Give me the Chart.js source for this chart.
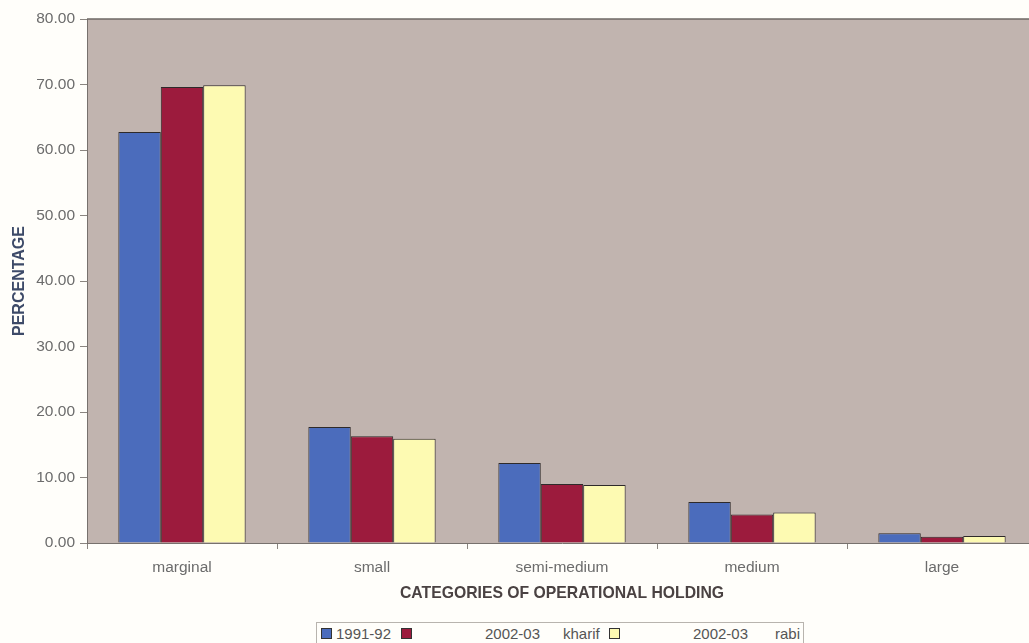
<!DOCTYPE html>
<html>
<head>
<meta charset="utf-8">
<script src="https://cdn.jsdelivr.net/npm/chart.js@4/dist/chart.umd.min.js"></script>
<style>
  html, body { margin: 0; padding: 0; background: #fffefa; overflow: hidden; }
  #wrap { position: relative; width: 1029px; height: 643px; overflow: hidden; }
  #box { position: absolute; left: 0; top: 0; width: 1040px; height: 643px; }
  #legend { position: absolute; left: 316px; top: 622px; width: 488px; height: 30px;
            border: 1px solid #b8b4ae; box-sizing: border-box; background: #fffefa;
            font-family: "Liberation Sans", Arial, sans-serif; font-size: 15px; color: #555; }
  #legend span { position: absolute; top: 2px; white-space: pre; }
  #legend i { position: absolute; top: 5px; width: 9px; height: 9px; border: 1px solid #333; }
</style>
</head>
<body>
<div id="wrap">
  <div id="box"><canvas id="c" width="1040" height="643"></canvas></div>
  <div id="legend"></div>
</div>
<script>
// Share of operational holdings by size category (%)
const categories = ["marginal", "small", "semi-medium", "medium", "large"];
const seriesYears = ["1991-92", "2002-03", "2002-03"];
const seriesSeasons = ["", "kharif", "rabi"];
const values1991 = [62.75, 17.7, 12.2, 6.25, 1.5];
const valuesKharif = [69.6, 16.3, 9.0, 4.35, 0.95];
const valuesRabi = [69.9, 15.9, 8.85, 4.65, 1.05];
const yTicks = [0, 10, 20, 30, 40, 50, 60, 70, 80];

const colors = ["#4b6cbc", "#9c1b3d", "#fdfab2"];

// Plot background and top frame line
const plotFrame = {
  id: "plotFrame",
  beforeDraw(chart) {
    const { ctx, chartArea: a } = chart;
    ctx.save();
    ctx.fillStyle = "#c1b4af";
    ctx.fillRect(a.left, a.top, a.right - a.left, a.bottom - a.top);
    ctx.restore();
  },
  afterDraw(chart) {
    const { ctx, chartArea: a } = chart;
    ctx.save();
    ctx.strokeStyle = "#6e6864";
    ctx.lineWidth = 1.5;
    ctx.beginPath();
    ctx.moveTo(a.left, a.top);
    ctx.lineTo(a.right + 5, a.top);
    ctx.stroke();
    ctx.restore();
  }
};

new Chart(document.getElementById("c"), {
  type: "bar",
  data: {
    labels: categories,
    datasets: [values1991, valuesKharif, valuesRabi].map((d, i) => ({
      label: (seriesYears[i] + " " + seriesSeasons[i]).trim(),
      data: d,
      backgroundColor: colors[i],
      borderColor: "#2e2a2a",
      borderWidth: 1,
      categoryPercentage: 0.67,
      barPercentage: 1.0
    }))
  },
  options: {
    responsive: false,
    animation: false,
    layout: { padding: { top: 19, right: 3, bottom: 40, left: 0 } },
    plugins: { legend: { display: false }, tooltip: { enabled: false } },
    scales: {
      x: {
        grid: { offset: true, drawOnChartArea: false, tickLength: 6, color: "#8a8580" },
        border: { color: "#77716d", width: 1 },
        ticks: { color: "#6c6c6c", padding: 9, font: { family: "Liberation Sans", size: 15.5 } },
        title: {
          display: true, text: "CATEGORIES OF OPERATIONAL HOLDING",
          color: "#4a4242", padding: { top: 8, bottom: 0 },
          font: { family: "Liberation Sans", size: 15.75, weight: "bold" }
        },
        afterFit(s) { s.height = 60; }
      },
      y: {
        min: 0, max: 80,
        afterBuildTicks(s) { s.ticks = yTicks.map(v => ({ value: v })); },
        grid: { drawOnChartArea: false, tickLength: 7, color: "#8a8580" },
        border: { color: "#77716d", width: 1 },
        ticks: {
          color: "#6c6c6c", padding: 5,
          font: { family: "Liberation Sans", size: 15.5 },
          callback: v => Number(v).toFixed(2)
        },
        title: {
          display: true, text: "PERCENTAGE",
          color: "#3d4a68", padding: { top: 10, bottom: 0 },
          font: { family: "Liberation Sans", size: 16, weight: "bold" }
        },
        afterFit(s) { s.width = 87; }
      }
    }
  },
  plugins: [plotFrame]
});

// Legend row: swatch, year and season placed as separate pieces
const legend = document.getElementById("legend");
const legendLayout = [
  { sw: 4, yearX: 19, seasonX: 0 },
  { sw: 84, yearX: 168, seasonX: 246 },
  { sw: 292, yearX: 376, seasonX: 458 }
];
legendLayout.forEach((it, i) => {
  const sq = document.createElement("i");
  sq.style.left = it.sw + "px";
  sq.style.background = colors[i];
  legend.appendChild(sq);
  const yr = document.createElement("span");
  yr.style.left = it.yearX + "px";
  yr.textContent = seriesYears[i];
  legend.appendChild(yr);
  if (seriesSeasons[i]) {
    const se = document.createElement("span");
    se.style.left = it.seasonX + "px";
    se.textContent = seriesSeasons[i];
    legend.appendChild(se);
  }
});
</script>
</body>
</html>
